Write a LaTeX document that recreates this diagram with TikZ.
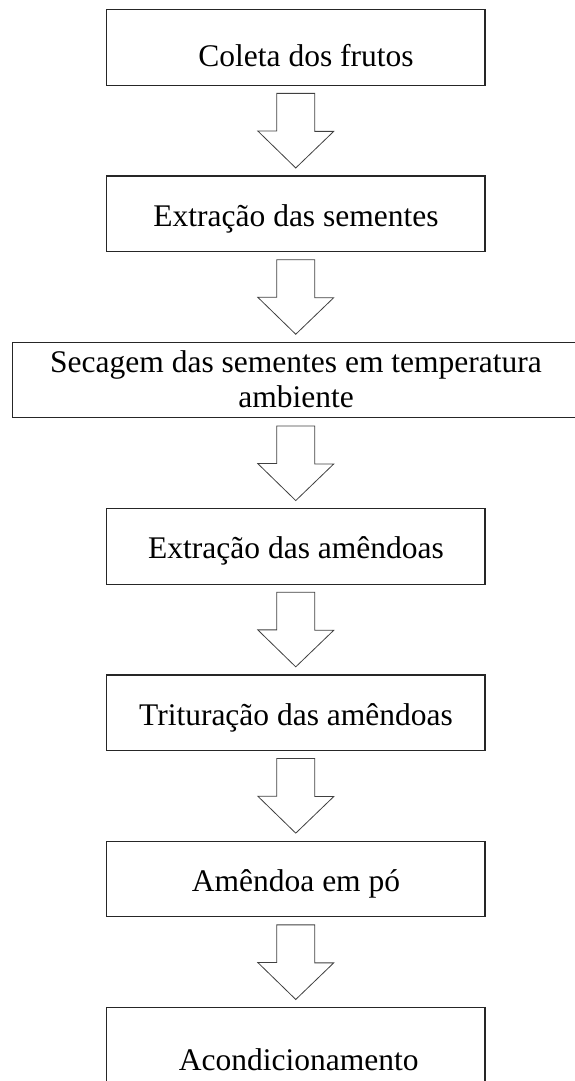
\documentclass[tikz,border=0pt]{standalone}
\usepackage{fontspec}
\setmainfont{Liberation Serif}
\usepackage{tikz}
\usetikzlibrary{calc}

\tikzset{
  caixa/.style={draw=black!85, line width=1.2pt, rectangle, minimum width=378.5pt, minimum height=75.5pt, inner sep=0pt},
  texto/.style={anchor=base, inner sep=0pt, font=\fontsize{31.5}{35}\selectfont},
  seta/.style={draw=black!75, line width=0.8pt, line join=miter}
}

% seta larga de uma caixa para a seguinte
\newcommand{\seta}[2]{%
  \draw[seta] ($(#1.south)+(-19pt,-7.5pt)$) -- ++(38pt,0) -- ++(0,-38pt) -- ++(19pt,0)
    -- ($(#2.north)+(0,7.5pt)$) -- ++(-38pt,37pt) -- ++(19pt,0) -- cycle;}

\begin{document}
\begin{tikzpicture}[x=1pt, y=-1pt]
\useasboundingbox (0,0) rectangle (575,1081);
\clip (0,0) rectangle (575,1081);

\node[caixa] (c1) at (295.75,47.5) {};
\node[caixa] (c2) at (295.75,213.8) {};
\node[caixa, minimum width=567pt] (c3) at (295.75,380.1) {};
\node[caixa] (c4) at (295.75,546.4) {};
\node[caixa] (c5) at (295.75,712.7) {};
\node[caixa] (c6) at (295.75,879.0) {};
\node[caixa] (c7) at (295.75,1045.3) {};

\node[texto] (t1) at (306,66.7) {Coleta dos frutos};
\node[texto] (t2) at (296,226) {Extração das sementes};
\node[texto] (t3a) at (296,372.7) {Secagem das sementes em temperatura};
\node[texto] (t3b) at (296,407.7) {ambiente};
\node[texto] (t4) at (296,558.6) {Extração das amêndoas};
\node[texto] (t5) at (296,725) {Trituração das amêndoas};
\node[texto] (t6) at (296,891.7) {Amêndoa em pó};
\node[texto] (t7) at (298.8,1070) {Acondicionamento};

\seta{c1}{c2}
\seta{c2}{c3}
\seta{c3}{c4}
\seta{c4}{c5}
\seta{c5}{c6}
\seta{c6}{c7}

\end{tikzpicture}
\end{document}
